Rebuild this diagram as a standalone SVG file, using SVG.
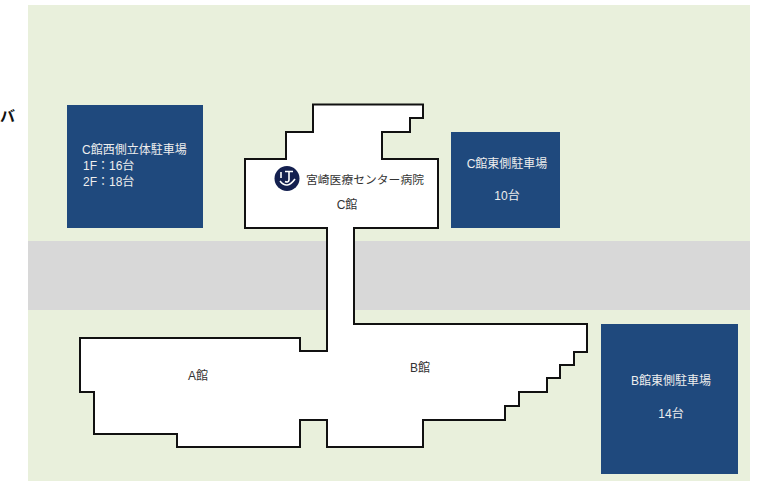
<svg xmlns="http://www.w3.org/2000/svg" width="763" height="481" viewBox="0 0 763 481">
<style>
text{font-family:"Liberation Sans","Noto Sans CJK JP",sans-serif;font-size:12px}
.lot{fill:#1f497d}
.w{fill:#eeeeee}
.d{fill:#333}
.m{text-anchor:middle}
</style>
<rect width="763" height="481" fill="#fff"/>
<rect id="ground" x="28" y="5" width="722" height="476" fill="#e9f0dc"/>
<rect id="road" x="28" y="241" width="722" height="69" fill="#d8d8d8"/>
<g id="building">
<path fill="#fff" stroke="#111" stroke-width="2" d="M313 104.500H423V118H410V132H382V159H438V228H354V324H587V352H574V365H560V378H547V392H519V406H505V420H423V447H327V420H300V447H177V434H94V392H80V338H300V351H327V228H245V159H286V132H313Z"/>
<text class="d m" x="347" y="209">C館</text>
<text class="d m" x="198" y="380">A館</text>
<text class="d m" x="420" y="372">B館</text>
</g>
<g id="logo">
<circle cx="287" cy="178.500" r="12.500" fill="#14204f"/>
<path fill="none" stroke="#fff" stroke-width="1.600" d="M285 171.500H293M289 171.500V180Q288.500 183 285 181.500M281 172V178M280 181Q287 190 295 179"/>
<text class="d" x="306" y="184" style="font-size:11.800px">宮崎医療センター病院</text>
</g>
<g id="lot-c-west">
<rect class="lot" x="67" y="105" width="136" height="123"/>
<text class="w" x="82" y="154">C館西側立体駐車場</text>
<text class="w" x="83" y="170">1F：16台</text>
<text class="w" x="83" y="186">2F：18台</text>
</g>
<g id="lot-c-east">
<rect class="lot" x="451" y="132" width="109" height="96"/>
<text class="w m" x="507" y="168">C館東側駐車場</text>
<text class="w m" x="507" y="200">10台</text>
</g>
<g id="lot-b-east">
<rect class="lot" x="601" y="324" width="137" height="150"/>
<text class="w m" x="671" y="385">B館東側駐車場</text>
<text class="w m" x="671" y="418">14台</text>
</g>
<text id="cut" x="0" y="121" style="font-size:15px;font-weight:bold;fill:#111">バ</text>
</svg>
